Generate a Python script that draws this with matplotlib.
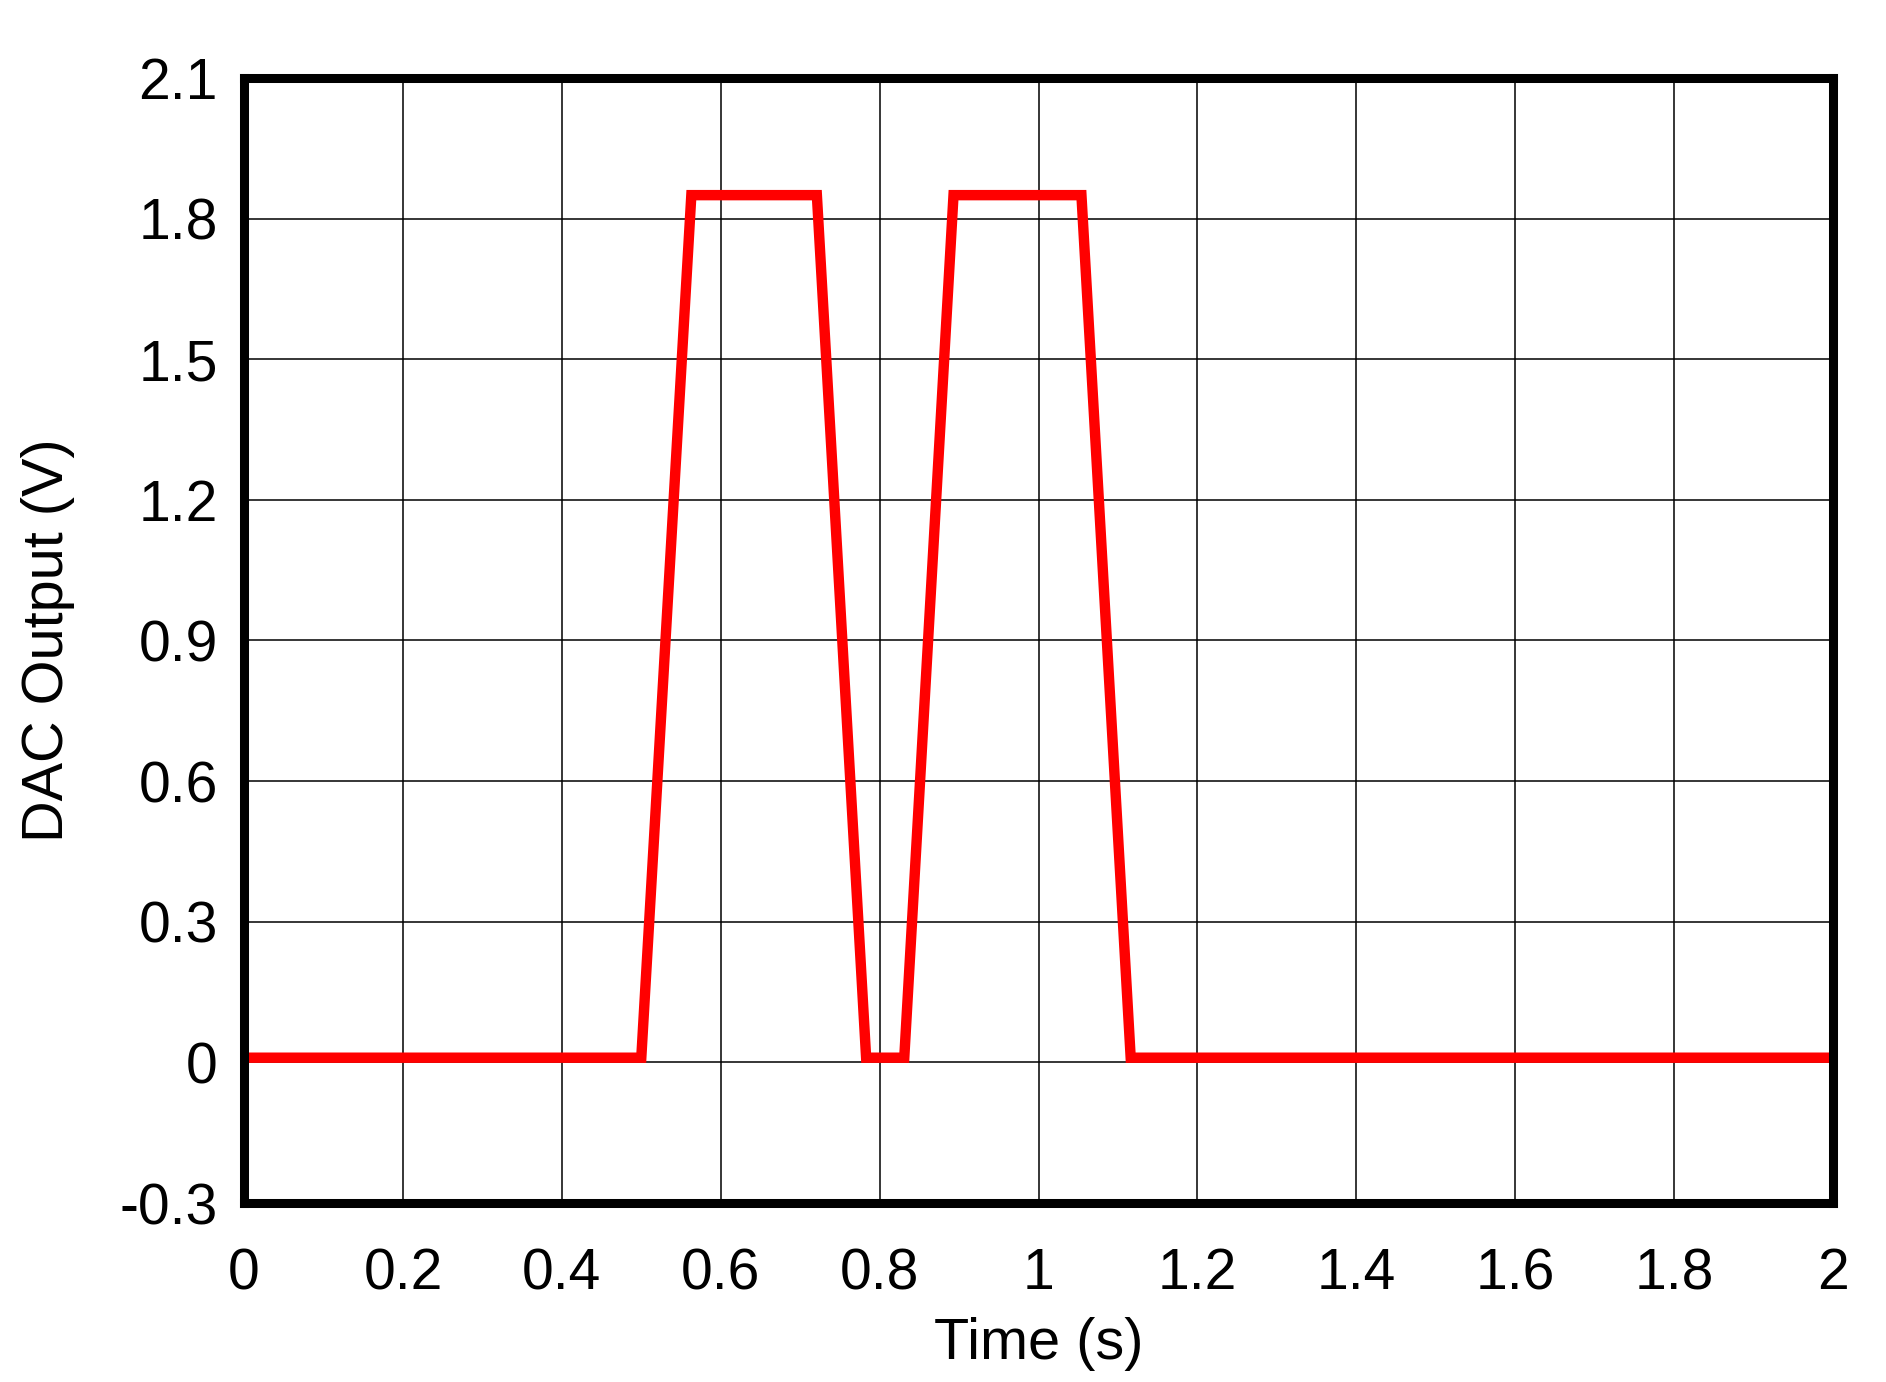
import numpy as np
import matplotlib.pyplot as plt

# corner points of the DAC output waveform
time_s = [0.0, 0.500, 0.563, 0.721, 0.783, 0.831, 0.893, 1.054, 1.116, 2.0]
dac_v = [0.01, 0.01, 1.85, 1.85, 0.01, 0.01, 1.85, 1.85, 0.01, 0.01]

x_ticks = [0, 0.2, 0.4, 0.6, 0.8, 1, 1.2, 1.4, 1.6, 1.8, 2]
x_labels = ["0", "0.2", "0.4", "0.6", "0.8", "1", "1.2", "1.4", "1.6", "1.8", "2"]
y_ticks = [-0.3, 0, 0.3, 0.6, 0.9, 1.2, 1.5, 1.8, 2.1]
y_labels = ["-0.3", "0", "0.3", "0.6", "0.9", "1.2", "1.5", "1.8", "2.1"]

plt.rcParams['font.family'] = ['Liberation Sans', 'DejaVu Sans']

fig = plt.figure(figsize=(18.86, 13.82), dpi=100)
ax = fig.add_axes([0.1294, 0.1295, 0.9719 - 0.1294, 0.9436 - 0.1295])

ax.plot(time_s, dac_v, color='#ff0000', linewidth=7.5, solid_joinstyle='miter', zorder=3)

ax.set_xlim(0, 2)
ax.set_ylim(-0.3, 2.1)
ax.set_xticks(x_ticks)
ax.set_xticklabels(x_labels)
ax.set_yticks(y_ticks)
ax.set_yticklabels(y_labels)
ax.grid(True, color='black', linewidth=1.1, zorder=1)
ax.tick_params(axis='both', length=0, labelsize=41)
ax.tick_params(axis='x', pad=32)
ax.tick_params(axis='y', pad=19)

for sp in ax.spines.values():
    sp.set_linewidth(6.5)
    sp.set_zorder(4)

ax.set_xlabel("Time (s)", fontsize=41.5)
ax.set_ylabel("DAC Output (V)", fontsize=41.5)
ax.xaxis.set_label_coords(0.5, -0.101)
ax.yaxis.set_label_coords(-0.1065, 0.5)

fig.savefig("out.png", dpi=100)
